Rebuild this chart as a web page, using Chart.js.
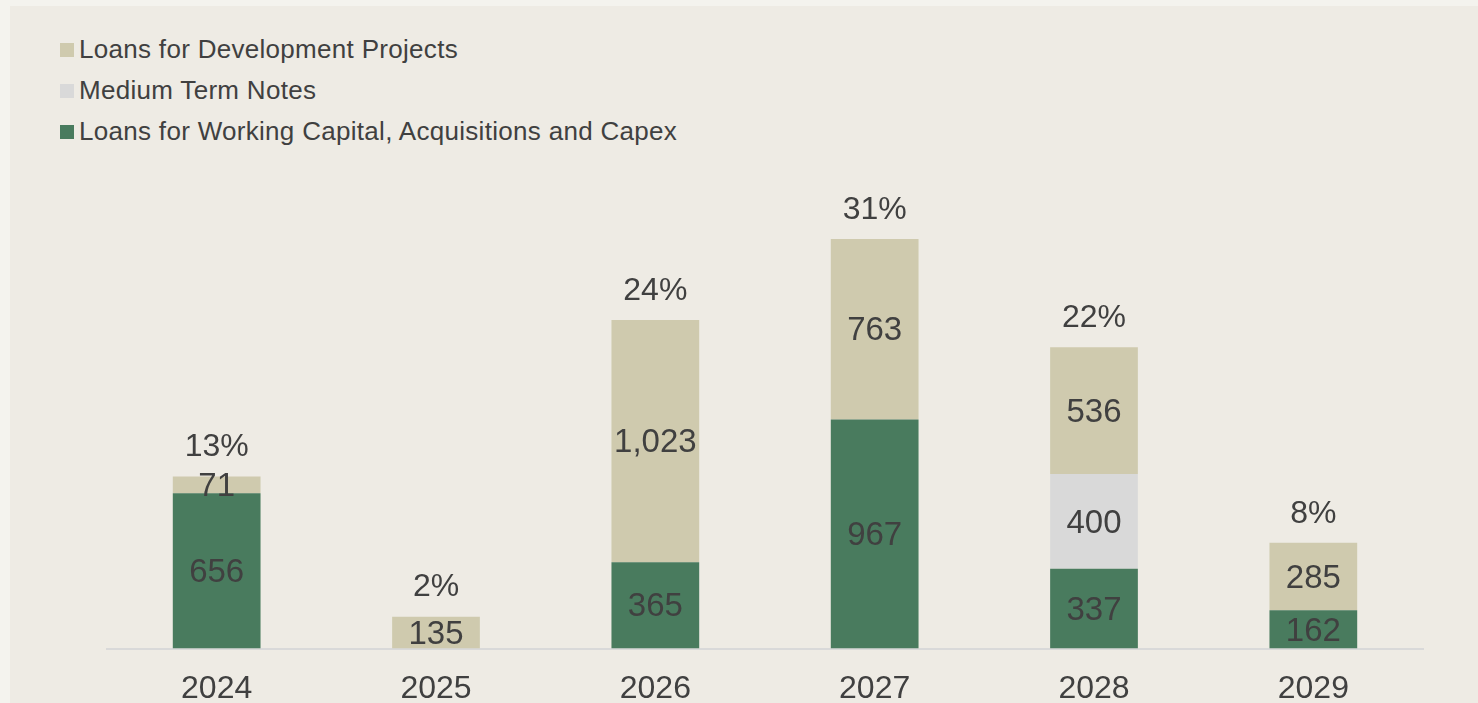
<!DOCTYPE html>
<html>
<head>
<meta charset="utf-8">
<script src="https://cdn.jsdelivr.net/npm/chart.js@4"></script>
<style>
  html, body { margin: 0; padding: 0; }
  body { width: 1478px; height: 703px; background: #f4f3ee; position: relative; overflow: hidden;
         font-family: "Liberation Sans", Arial, sans-serif; color: #404040; }
  #panel { position: absolute; left: 10px; top: 6px; right: 0; bottom: 0; background: #eeebe4; }
  #legend { position: absolute; left: 60px; top: 29px; }
  .item { height: 41px; display: flex; align-items: center; font-size: 26px; letter-spacing: 0.3px; }
  .item .sw { width: 14px; height: 14px; margin-right: 5px; }
  #wrap { position: absolute; left: 0; top: 0; width: 1478px; height: 729px; }
</style>
</head>
<body>
<div id="panel"></div>
<div id="legend"></div>
<div id="wrap"><canvas id="debtChart" width="1478" height="729"></canvas></div>
<script>
// maturity schedule, values
const years = ['2024', '2025', '2026', '2027', '2028', '2029'];
const workingCapital = [656, 0, 365, 967, 337, 162];
const mediumTermNotes = [0, 0, 0, 0, 400, 0];
const developmentLoans = [71, 135, 1023, 763, 536, 285];
const shareLabels = ['13%', '2%', '24%', '31%', '22%', '8%'];

const GREEN = '#497b5e';
const GREY = '#d9d9d9';
const TAN = '#cfcaae';
const TEXT = '#404040';

// legend is listed top-down in reverse stack order
const legendItems = [
  { label: 'Loans for Development Projects', color: TAN },
  { label: 'Medium Term Notes', color: GREY },
  { label: 'Loans for Working Capital, Acquisitions and Capex', color: GREEN }
];
const legendEl = document.getElementById('legend');
legendItems.forEach(function (it) {
  const row = document.createElement('div');
  row.className = 'item';
  row.innerHTML = '<span class="sw" style="background:' + it.color + '"></span><span>' + it.label + '</span>';
  legendEl.appendChild(row);
});

// draws segment values inside bars and share labels above each stack
const labelPlugin = {
  id: 'barLabels',
  afterDatasetsDraw(chart) {
    const ctx = chart.ctx;
    ctx.save();
    ctx.fillStyle = TEXT;
    ctx.textAlign = 'center';
    ctx.textBaseline = 'middle';
    ctx.font = '33px "Liberation Sans", Arial, sans-serif';
    chart.data.datasets.forEach(function (ds, i) {
      const meta = chart.getDatasetMeta(i);
      meta.data.forEach(function (bar, j) {
        const v = ds.data[j];
        if (!v) return;
        const mid = (bar.y + bar.base) / 2 + 2;
        ctx.fillText(v.toLocaleString('en-US'), bar.x, mid);
      });
    });
    const yScale = chart.scales.y;
    ctx.font = '32px "Liberation Sans", Arial, sans-serif';
    years.forEach(function (y, j) {
      const total = workingCapital[j] + mediumTermNotes[j] + developmentLoans[j];
      const x = chart.getDatasetMeta(0).data[j].x;
      ctx.fillText(shareLabels[j], x, yScale.getPixelForValue(total) - 29);
    });
    ctx.restore();
  }
};

const ctx = document.getElementById('debtChart').getContext('2d');
const debtChart = new Chart(ctx, {
  type: 'bar',
  data: {
    labels: years,
    datasets: [
      { label: 'Loans for Working Capital, Acquisitions and Capex', data: workingCapital, backgroundColor: GREEN },
      { label: 'Medium Term Notes', data: mediumTermNotes, backgroundColor: GREY },
      { label: 'Loans for Development Projects', data: developmentLoans, backgroundColor: TAN }
    ]
  },
  options: {
    responsive: false,
    animation: false,
    devicePixelRatio: 1,
    layout: { padding: { left: 107, right: 55, top: 175, bottom: 0 } },
    datasets: { bar: { barPercentage: 0.4, categoryPercentage: 1, borderWidth: 0 } },
    plugins: { legend: { display: false }, tooltip: { enabled: false } },
    scales: {
      x: {
        stacked: true,
        grid: { display: false, drawTicks: false },
        border: { display: true, color: '#d9d9d9', width: 2 },
        ticks: { color: TEXT, padding: 21, font: { family: '"Liberation Sans", Arial, sans-serif', size: 32 } }
      },
      y: { stacked: true, display: false, min: 0, max: 2000 }
    }
  },
  plugins: [labelPlugin]
});
</script>
</body>
</html>
